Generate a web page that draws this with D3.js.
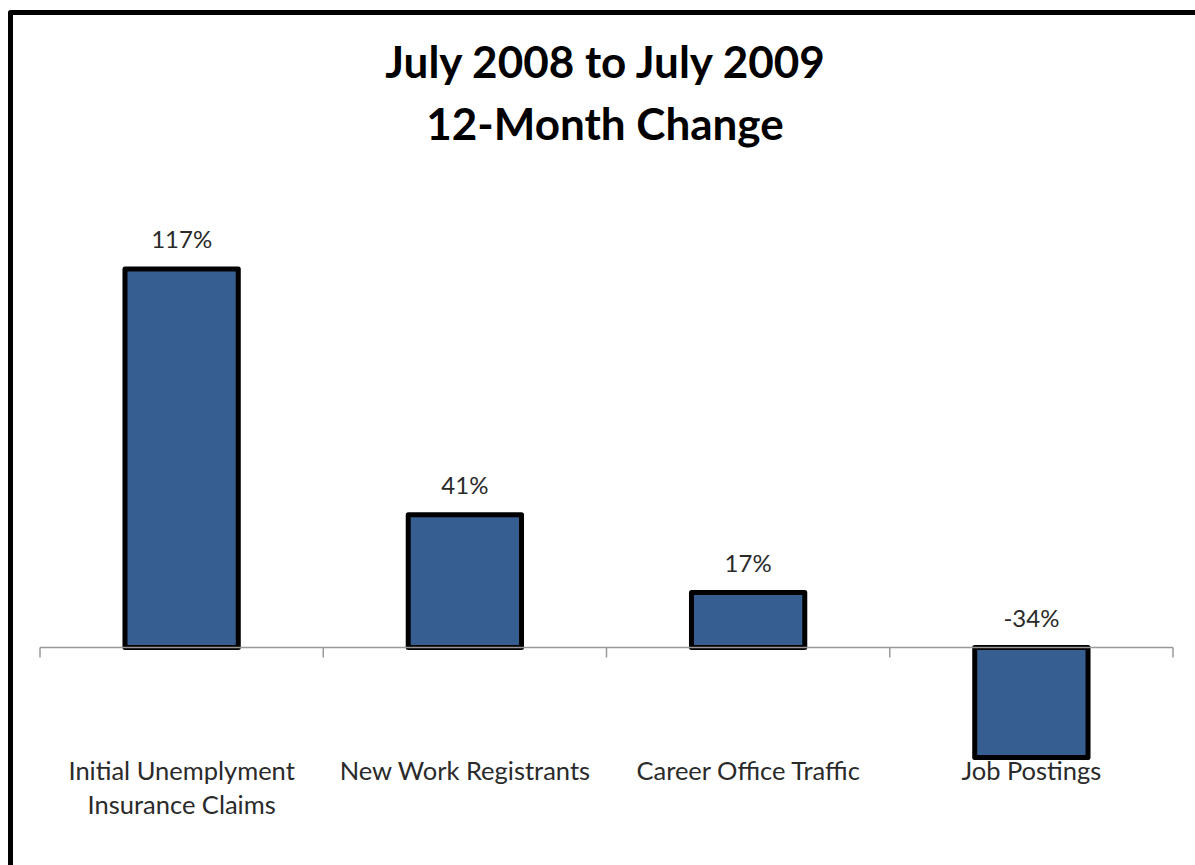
<!DOCTYPE html>
<html>
<head>
<meta charset="utf-8">
<script src="https://cdn.jsdelivr.net/npm/d3@7"></script>
<style>
  html, body { margin: 0; padding: 0; background: #fff; }
  svg { display: block; }
</style>
</head>
<body>
<svg id="chart" width="1195" height="865"></svg>
<script>
const categories = [["Initial Unemplyment", "Insurance Claims"], ["New Work Registrants"], ["Career Office Traffic"], ["Job Postings"]];
const categoryKeys = ["Initial Unemplyment Insurance Claims", "New Work Registrants", "Career Office Traffic", "Job Postings"];
const values = [117, 41, 17, -34];
const valueLabels = ["117%", "41%", "17%", "-34%"];
const titleLines = ["July 2008 to July 2009", "12-Month Change"];

const svg = d3.select("#chart");
const W = 1195, H = 865;
const font = "Lato, 'Open Sans', sans-serif";

// outer border (left & top visible, runs off right/bottom)
svg.append("path")
  .attr("d", `M10.5,${H + 10} L10.5,12.5 L${W + 10},12.5`)
  .attr("fill", "none").attr("stroke", "#000").attr("stroke-width", 5)
  .attr("stroke-linejoin", "round");

// title
svg.append("g").selectAll("text").data(titleLines).join("text")
  .attr("x", 605)
  .attr("y", (d, i) => 78 + i * 62)
  .attr("text-anchor", "middle")
  .attr("font-family", font)
  .attr("font-weight", "bold")
  .attr("font-size", 44)
  .attr("fill", "#000")
  .text(d => d);

const x = d3.scaleBand().domain(categoryKeys).range([40, 1173]).paddingInner(0.6).paddingOuter(0.3);
const xEdge = d3.scaleBand().domain(categoryKeys).range([40, 1173]).padding(0);
const y = d3.scaleLinear().domain([-40, 140]).range([776.9, 194.6]);

// bars
svg.append("g").selectAll("rect").data(values).join("rect")
  .attr("x", (d, i) => x(categoryKeys[i]))
  .attr("width", x.bandwidth())
  .attr("y", d => y(Math.max(d, 0)))
  .attr("height", d => Math.abs(y(d) - y(0)))
  .attr("fill", "#365e90")
  .attr("stroke", "#000")
  .attr("stroke-width", 5)
  .attr("stroke-linejoin", "round");

// axis line & ticks
const ax = svg.append("g").attr("stroke", "#999").attr("stroke-width", 1.5);
ax.append("line").attr("x1", 40).attr("x2", 1173).attr("y1", y(0)).attr("y2", y(0));
const edges = categoryKeys.map(k => xEdge(k)).concat([xEdge.range()[1]]);
ax.selectAll("line.tick").data(edges).join("line").attr("class", "tick")
  .attr("x1", d => d).attr("x2", d => d)
  .attr("y1", y(0)).attr("y2", y(0) + 10);

// value labels
svg.append("g").selectAll("text").data(values).join("text")
  .attr("x", (d, i) => x(categoryKeys[i]) + x.bandwidth() / 2)
  .attr("y", d => y(Math.max(d, 0)) - 21)
  .attr("text-anchor", "middle")
  .attr("font-family", font)
  .attr("font-size", 24)
  .attr("fill", "#2a2a2a")
  .text((d, i) => valueLabels[i]);

// category labels
const cg = svg.append("g");
categories.forEach((lines, i) => {
  const t = cg.append("text")
    .attr("x", x(categoryKeys[i]) + x.bandwidth() / 2)
    .attr("y", 780)
    .attr("text-anchor", "middle")
    .attr("font-family", font)
    .attr("font-size", 25.5)
    .attr("fill", "#2a2a2a");
  lines.forEach((l, j) => {
    t.append("tspan").attr("x", x(categoryKeys[i]) + x.bandwidth() / 2).attr("dy", j === 0 ? 0 : 34).text(l);
  });
});
</script>
</body>
</html>
